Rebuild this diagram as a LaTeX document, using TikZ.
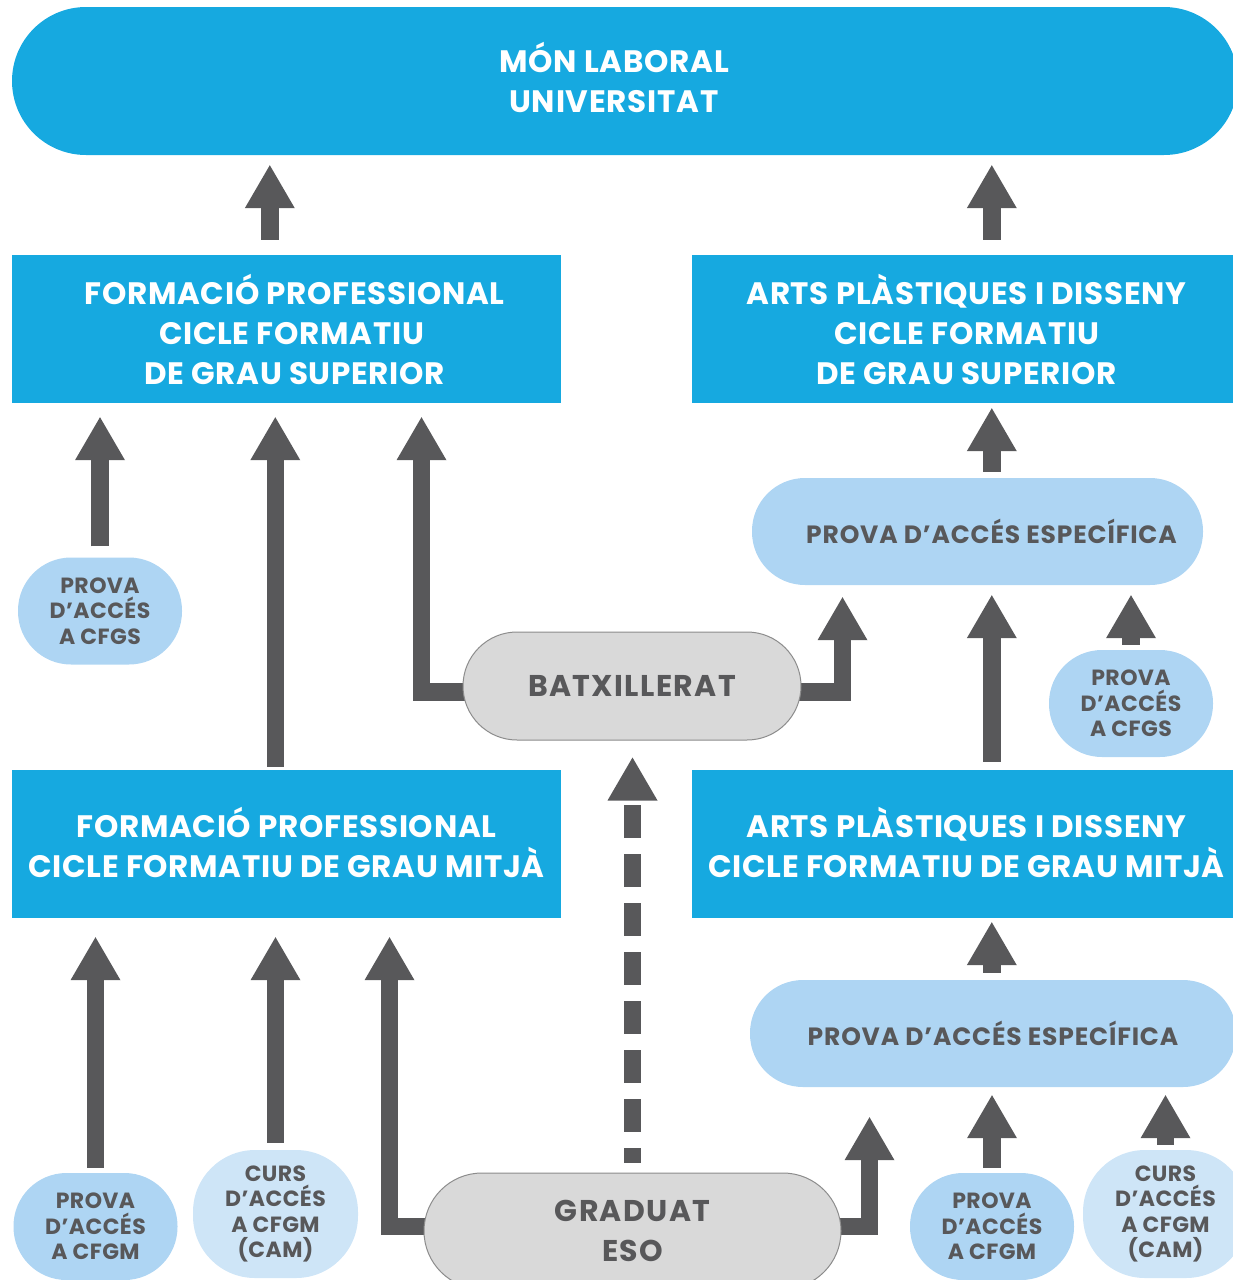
\documentclass[tikz,border=0pt]{standalone}
\usepackage{fontspec}
\setmainfont{Poppins}
\usetikzlibrary{arrows.meta,calc,backgrounds}
\definecolor{cblue}{HTML}{16A9E0}
\definecolor{lblue}{HTML}{AED5F3}
\definecolor{llblue}{HTML}{CEE5F7}
\definecolor{dgray}{HTML}{58585A}
\definecolor{bgray}{HTML}{D9D9D9}
\definecolor{bord}{HTML}{8C8C8C}
\begin{document}
\begin{tikzpicture}[x=1pt,y=-1pt,
  bluebar/.style={fill=cblue, inner sep=0pt, minimum width=1226pt, minimum height=148pt, rounded corners=74pt},
  bartxt/.style={text=white, inner sep=0pt, align=center, font=\fontsize{31}{40}\selectfont\bfseries\addfontfeature{LetterSpace=2.5}},
  title/.style={fill=cblue, text=white, inner sep=0pt, align=center, minimum width=549pt, minimum height=148pt, font=\fontsize{31}{40}\selectfont\bfseries\addfontfeature{LetterSpace=2.2}},
  spec/.style={fill=lblue, text=dgray, inner sep=0pt, align=center, minimum height=107pt, rounded corners=53pt, font=\fontsize{25}{28}\selectfont\bfseries\addfontfeature{LetterSpace=3.3}},
  access/.style={fill=lblue, text=dgray, inner sep=0pt, align=center, minimum width=164pt, minimum height=107pt, rounded corners=53pt, font=\fontsize{22}{25.5}\selectfont\bfseries\addfontfeature{LetterSpace=2}},
  cam/.style={access, fill=llblue, minimum width=165pt, minimum height=128pt, rounded corners=62pt},
  diploma/.style={fill=bgray, draw=bord, line width=1pt, text=dgray, inner sep=0pt, align=center, font=\fontsize{30}{40}\selectfont\bfseries\addfontfeature{LetterSpace=4.5}},
  big/.style={line width=17.5pt, draw=dgray, -{Triangle[width=50pt,length=43pt,line width=0pt]}},
]
\clip (0,0) rectangle (1233,1280);

% nodes
\node[bluebar] (mon) at (625,81) {};
\node[bartxt] (montxt) at (614,77) {MÓN LABORAL\\UNIVERSITAT};

\node[title] (fpgs) at (286.5,329) {\hspace*{16pt}FORMACIÓ PROFESSIONAL\\\hspace*{10pt}CICLE FORMATIU\\\hspace*{16pt}DE GRAU SUPERIOR};
\node[title] (apgs) at (966.5,329) {ARTS PLÀSTIQUES I DISSENY\\CICLE FORMATIU\\DE GRAU SUPERIOR};
\node[title] (fpgm) at (286.5,844) {\raisebox{3pt}{FORMACIÓ PROFESSIONAL}\\\raisebox{3pt}{CICLE FORMATIU DE GRAU MITJÀ}};
\node[title] (apgm) at (966.5,844) {\raisebox{3pt}{ARTS PLÀSTIQUES I DISSENY}\\\raisebox{3pt}{CICLE FORMATIU DE GRAU MITJÀ}};

\node[spec, minimum width=451pt] (pes1) at (977.5,531.5) {\hspace*{28pt}PROVA D’ACCÉS ESPECÍFICA};
\node[spec, minimum width=486pt] (pes2) at (993,1033.5) {PROVA D’ACCÉS ESPECÍFICA};

\node[diploma, minimum width=338pt, minimum height=108pt, rounded corners=54pt] (batx) at (632,686) {BATXILLERAT};
\node[diploma, minimum width=417pt, minimum height=116pt, rounded corners=58pt] (grad) at (632.5,1231) {GRADUAT\\ESO};

\node[access] (pcfgsl) at (100,611) {PROVA\\D’ACCÉS\\A CFGS};
\node[access] (pcfgsr) at (1131,703.5) {PROVA\\D’ACCÉS\\A CFGS};
\node[access] (pcfgml) at (95.5,1226.5) {PROVA\\D’ACCÉS\\A CFGM};
\node[access] (pcfgmr) at (992,1226.5) {PROVA\\D’ACCÉS\\A CFGM};
\node[cam] (caml) at (275.5,1214) {CURS\\D’ACCÉS\\A CFGM\\(CAM)};
\node[cam] (camr) at (1165.5,1214) {CURS\\D’ACCÉS\\A CFGM\\(CAM)};

% connectors
\begin{pgfonlayer}{background}
\draw[big] ($(fpgs.north west)+(258,-15)$) -- ($(fpgs.north west |- mon.south)+(258,10)$);
\draw[big] ($(apgs.north west)+(300,-15)$) -- ($(apgs.north west |- mon.south)+(300,10)$);
\draw[big] ($(pcfgsl.north)+(0,-11)$) -- ($(pcfgsl.north |- fpgs.south)+(0,14)$);
\draw[big] ($(fpgm.north west)+(263.5,-3)$) -- ($(fpgm.north west |- fpgs.south)+(263.5,14)$);
\draw[big] ($(batx.west)+(10,6)$) -| ($(batx.west |- fpgs.south)+(-41,14)$);
\draw[big] ($(batx.east)+(-10,6)$) -| ($(batx.east |- pes1.south)+(41,12)$);
\draw[big] ($(apgm.north west)+(300,-8)$) -- ($(apgm.north west |- pes1.south)+(300,10)$);
\draw[big] ($(pcfgsr.north)+(0,-5)$) -- ($(pcfgsr.north |- pes1.south)+(0,10)$);
\draw[big] ($(pes1.north west)+(240,-6)$) -- ($(pes1.north west |- apgs.south)+(240,5)$);
\draw[big] ($(pes2.north west)+(242,-7)$) -- ($(pes2.north west |- apgm.south)+(242,4)$);
\draw[big] ($(pcfgml.north)+(0,-5)$) -- ($(pcfgml.north |- fpgm.south)+(0,19)$);
\draw[big] ($(caml.north)+(0,-7)$) -- ($(caml.north |- fpgm.south)+(0,19)$);
\draw[big] ($(grad.west)+(10,-4.5)$) -| ($(grad.west |- fpgm.south)+(-34,19)$);
\draw[big] ($(grad.east)+(-10,-4.5)$) -| ($(grad.east |- pes2.south)+(28,30)$);
\draw[big] ($(pcfgmr.north)+(0,-5)$) -- ($(pcfgmr.north |- pes2.south)+(0,8)$);
\draw[big] ($(camr.north)+(0,-5)$) -- ($(camr.north |- pes2.south)+(0,8)$);
\draw[big, dash pattern=on 33pt off 16pt, dash phase=18pt] ($(grad.north)+(0,-10)$) -- ($(grad.north |- batx.south)+(0,17)$);
\end{pgfonlayer}
\end{tikzpicture}
\end{document}
